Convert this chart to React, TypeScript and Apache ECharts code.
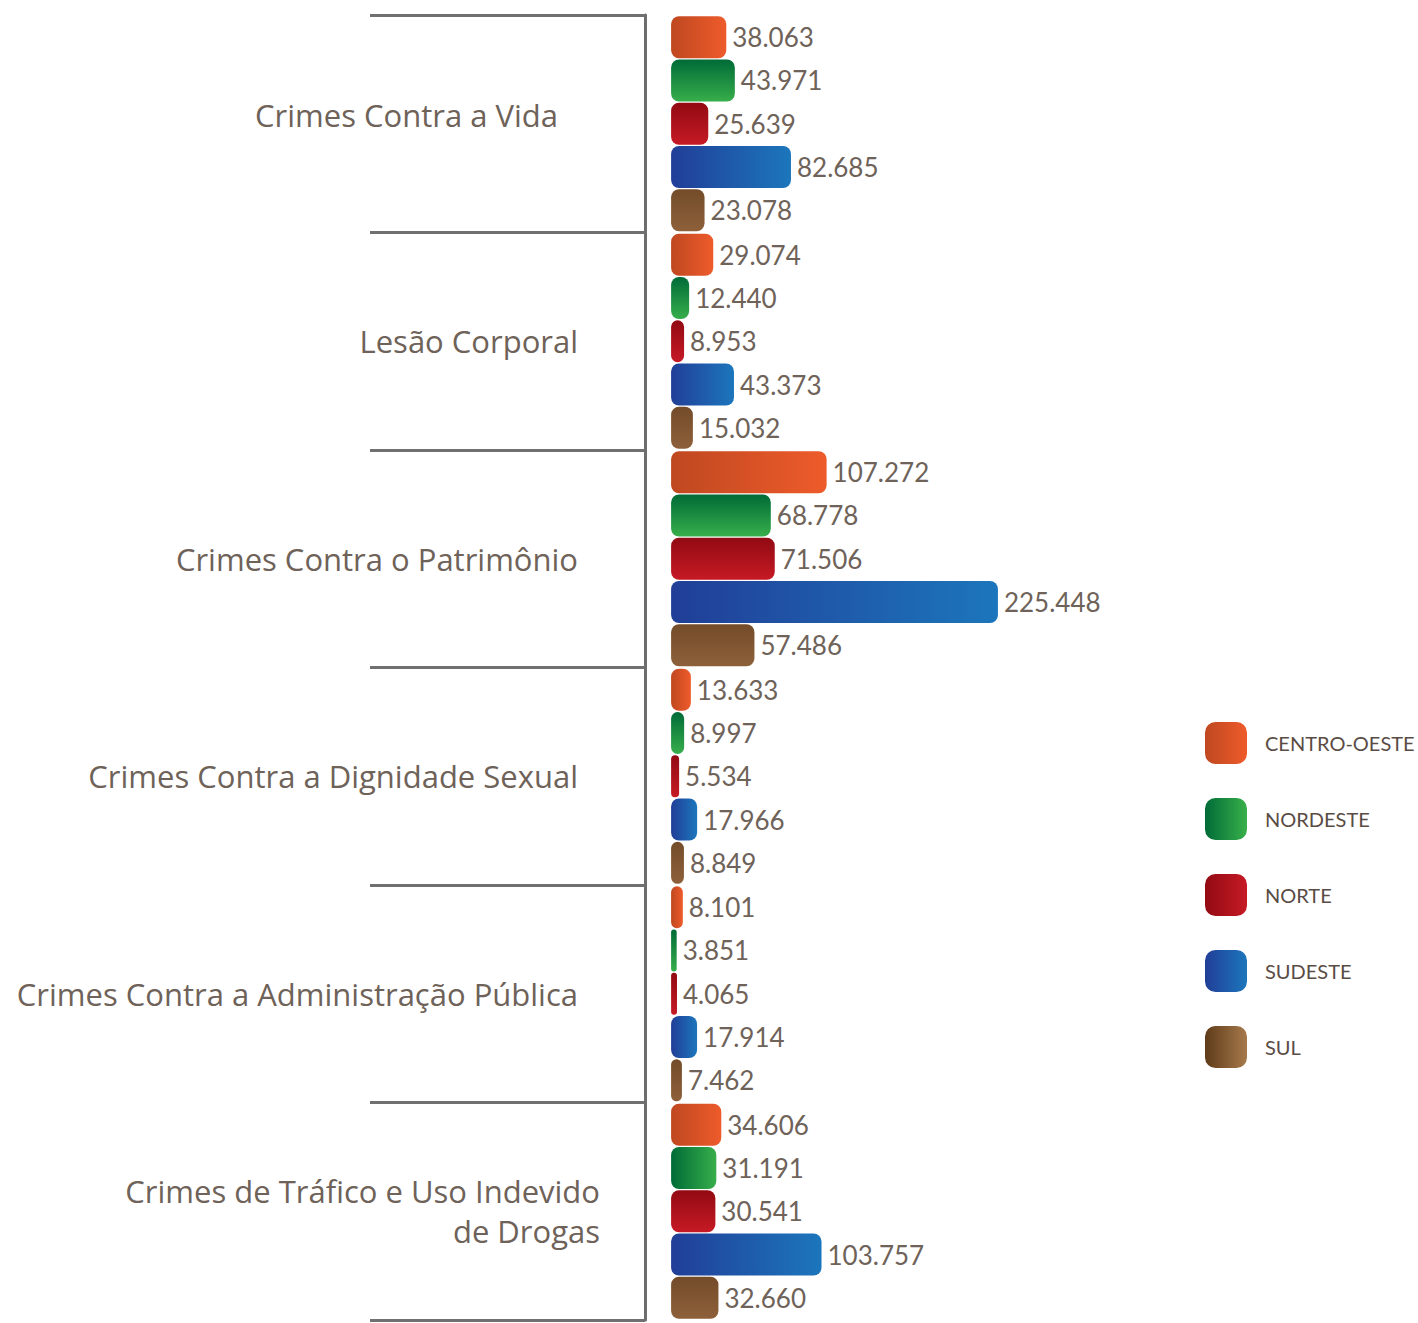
import React, { useEffect, useRef } from "react";
import * as echarts from "echarts";

const categories = [
  "Crimes Contra a Vida",
  "Lesão Corporal",
  "Crimes Contra o Patrimônio",
  "Crimes Contra a Dignidade Sexual",
  "Crimes Contra a Administração Pública",
  "Crimes de Tráfico e Uso Indevido\nde Drogas",
];

const regions = ["CENTRO-OESTE", "NORDESTE", "NORTE", "SUDESTE", "SUL"];

const centroOeste = [38063, 29074, 107272, 13633, 8101, 34606];
const nordeste = [43971, 12440, 68778, 8997, 3851, 31191];
const norte = [25639, 8953, 71506, 5534, 4065, 30541];
const sudeste = [82685, 43373, 225448, 17966, 17914, 103757];
const sul = [23078, 15032, 57486, 8849, 7462, 32660];

const seriesValues = [centroOeste, nordeste, norte, sudeste, sul];

// [dark, light, vertical?]
const barGradients: [string, string, boolean][] = [
  ["#bf4820", "#ee5b2b", false],
  ["#006b37", "#37ae4b", true],
  ["#920a12", "#c61a25", true],
  ["#213e97", "#1c76bc", false],
  ["#744c29", "#8d603a", true],
];
const legendGradients: [string, string][] = [
  ["#bf4820", "#ee5b2b"],
  ["#006b37", "#39b04b"],
  ["#920a12", "#c61a25"],
  ["#213e97", "#1c76bc"],
  ["#5e3b19", "#a77a4c"],
];

const fmt = (v: number) =>
  String(v).replace(/\B(?=(\d{3})+(?!\d))/g, ".");

const LABEL_FONT = "'Open Sans', Lato, sans-serif";
const VALUE_FONT = "Lato, 'Open Sans', sans-serif";
const TEXT = "#6e6259";

export default function App() {
  const ref = useRef<HTMLDivElement>(null);
  useEffect(() => {
    if (!ref.current) return;
    const chart = echarts.init(ref.current, undefined, { renderer: "svg" });
    const grad = (a: string, b: string, vertical: boolean) =>
      new echarts.graphic.LinearGradient(0, 0, vertical ? 0 : 1, vertical ? 1 : 0, [
        { offset: 0, color: a },
        { offset: 1, color: b },
      ]);
    chart.setOption({
      animation: false,
      backgroundColor: "#ffffff",
      textStyle: { fontFamily: VALUE_FONT },
      grid: { left: 645, top: 15, bottom: 3, right: 225, containLabel: false },
      legend: {
        orient: "vertical",
        left: 1205,
        top: 722,
        padding: 0,
        itemWidth: 42,
        itemHeight: 42,
        itemGap: 34,
        icon: "roundRect",
        textStyle: {
          color: "#5a4c45",
          fontSize: 20,
          fontFamily: VALUE_FONT,
          padding: [0, 0, 0, 13],
        },
        data: regions.map((r, i) => ({
          name: r,
          itemStyle: { color: grad(legendGradients[i][0], legendGradients[i][1], false) },
        })),
      },
      xAxis: {
        type: "value",
        min: -18000,
        max: 360000,
        show: false,
        splitLine: { show: false },
      },
      yAxis: {
        type: "category",
        inverse: true,
        data: categories,
        axisLine: { show: true, onZero: false, lineStyle: { color: "#6d6d6d", width: 3 } },
        axisTick: {
          show: true,
          length: 275,
          lineStyle: { color: "#707070", width: 3 },
        },
        axisLabel: {
          margin: 45,
          color: TEXT,
          fontFamily: LABEL_FONT,
          fontSize: 31,
          formatter: (v: string, idx: number) => {
            if (idx === 5) {
              return v
                .split("\n")
                .map((l) => `{c|${l}}`)
                .join("\n");
            }
            if (idx === 0) return `{a|${v}}`;
            return `{b|${v}}`;
          },
          rich: {
            a: { fontSize: 31, color: TEXT, fontFamily: LABEL_FONT, padding: [0, 42, 18, 0] },
            b: { fontSize: 31, color: TEXT, fontFamily: LABEL_FONT, padding: [0, 22, 0, 0] },
            c: { fontSize: 31, color: TEXT, fontFamily: LABEL_FONT, lineHeight: 40, align: "right" },
          },
        },
      },
      series: regions.map((r, i) => ({
        name: r,
        type: "bar",
        data: seriesValues[i].map((v, j) =>
          i === 1 && j === 5
            ? { value: v, itemStyle: { color: grad(barGradients[i][0], barGradients[i][1], false) } }
            : v
        ),
        barWidth: 42,
        barGap: "3%",
        itemStyle: {
          borderRadius: 8,
          color: grad(barGradients[i][0], barGradients[i][1], barGradients[i][2]),
        },
        label: {
          show: true,
          position: "right",
          distance: 6,
          color: TEXT,
          fontSize: 26,
          fontFamily: VALUE_FONT,
          formatter: (p: any) => fmt(p.value),
        },
      })),
    });
    return () => chart.dispose();
  }, []);
  return (
    <div
      ref={ref}
      style={{ position: "absolute", left: 0, top: 0, width: 1418, height: 1323 }}
    />
  );
}
